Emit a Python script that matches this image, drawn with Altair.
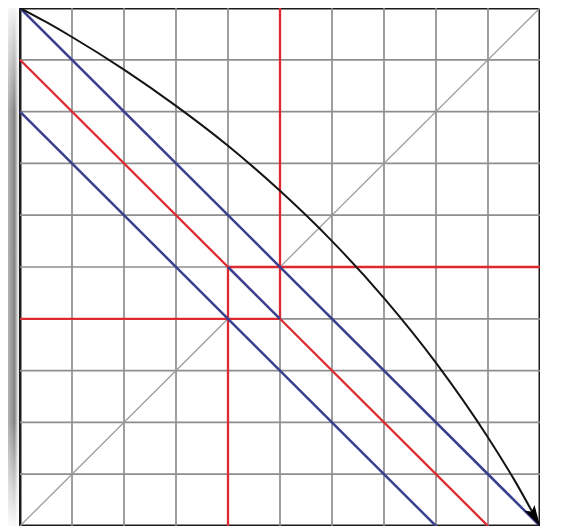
import altair as alt
import pandas as pd

# ---- data ----
GRID = [1, 2, 3, 4, 5, 6, 7, 8, 9]

# grey 45-degree line (hidden inside the small square)
GREY_X1 = [0, 5]
GREY_Y1 = [0, 5]
GREY_X2 = [4, 10]
GREY_Y2 = [4, 10]

# blue segments
BLUE_X1 = [0, 0, 4]
BLUE_Y1 = [10, 8, 5]
BLUE_X2 = [10, 8, 5]
BLUE_Y2 = [0, 0, 4]

# red segments
RED_X1 = [0, 5, 4, 0, 5, 4]
RED_Y1 = [9, 4, 5, 4, 4, 0]
RED_X2 = [4, 9, 10, 5, 5, 4]
RED_Y2 = [5, 0, 5, 4, 10, 5]

# black curved arrow
CURVE_X = [0, 0.5, 1, 2, 3, 4, 5, 6, 7, 8, 9, 9.5, 10]
CURVE_Y = [10, 9.73, 9.44, 8.81, 8.11, 7.34, 6.47, 5.5, 4.4, 3.15, 1.71, 0.9, 0]
ARROW_X = [10]
ARROW_Y = [0]

W, H = 520, 518

grid_df = pd.DataFrame(
    {"x1": GRID + [0] * len(GRID), "y1": [0] * len(GRID) + GRID,
     "x2": GRID + [10] * len(GRID), "y2": [10] * len(GRID) + GRID}
)
grey_df = pd.DataFrame({"x1": GREY_X1, "y1": GREY_Y1, "x2": GREY_X2, "y2": GREY_Y2})
blue_df = pd.DataFrame({"x1": BLUE_X1, "y1": BLUE_Y1, "x2": BLUE_X2, "y2": BLUE_Y2})
red_df = pd.DataFrame({"x1": RED_X1, "y1": RED_Y1, "x2": RED_X2, "y2": RED_Y2})
curve_df = pd.DataFrame({"x": CURVE_X, "y": CURVE_Y})
arrow_df = pd.DataFrame({"x": ARROW_X, "y": ARROW_Y})

xs = alt.Scale(domain=[0, 10], nice=False, zero=False)
ys = alt.Scale(domain=[0, 10], nice=False, zero=False)


def segs(df, color, width):
    return alt.Chart(df).mark_rule(color=color, strokeWidth=width).encode(
        x=alt.X("x1:Q", scale=xs, axis=None),
        y=alt.Y("y1:Q", scale=ys, axis=None),
        x2="x2:Q",
        y2="y2:Q",
    )


shade_df = pd.DataFrame({"k": [0]})
shade = alt.Chart(shade_df).mark_rect(
    color=alt.Gradient(
        gradient="linear",
        stops=[
            alt.GradientStop(color="#b4b4b4", offset=0),
            alt.GradientStop(color="#858585", offset=0.6),
            alt.GradientStop(color="#d6d6d6", offset=0.85),
            alt.GradientStop(color="#f6f6f6", offset=1),
        ],
        x1=0, x2=1, y1=0, y2=0,
    )
).encode(x=alt.value(-12), x2=alt.value(-1), y=alt.value(0), y2=alt.value(H))

shade_fade = alt.Chart(shade_df).mark_rect(
    color=alt.Gradient(
        gradient="linear",
        stops=[
            alt.GradientStop(color="rgba(255,255,255,0.9)", offset=0),
            alt.GradientStop(color="rgba(255,255,255,0)", offset=0.2),
            alt.GradientStop(color="rgba(255,255,255,0)", offset=0.8),
            alt.GradientStop(color="rgba(255,255,255,0.95)", offset=1),
        ],
        x1=0, x2=0, y1=0, y2=1,
    )
).encode(x=alt.value(-12), x2=alt.value(-1), y=alt.value(0), y2=alt.value(H))

grid = segs(grid_df, "#8e8e8e", 1.7)
grey = segs(grey_df, "#9c9c9c", 1.3)
red = segs(red_df, "#dd2a30", 2.3)
blue = segs(blue_df, "#3b3f8f", 2.5)

curve = alt.Chart(curve_df).mark_line(
    color="#141414", strokeWidth=2, interpolate="monotone"
).encode(
    x=alt.X("x:Q", scale=xs, axis=None),
    y=alt.Y("y:Q", scale=ys, axis=None),
)

arrow = alt.Chart(arrow_df).mark_point(
    shape="M 0 0 L 0.55 2 L 0 1.6 L -0.55 2 Z",
    filled=True,
    size=440,
    angle=150,
    color="#000000",
    opacity=1,
    strokeWidth=0,
).encode(
    x=alt.X("x:Q", scale=xs, axis=None),
    y=alt.Y("y:Q", scale=ys, axis=None),
)

chart = (
    alt.layer(shade, shade_fade, grid, grey, red, blue, curve, arrow)
    .properties(
        width=W,
        height=H,
        autosize=alt.AutoSizeParams(type="none"),
        padding={"left": 12, "top": 0, "right": 0, "bottom": 0},
        background="white",
    )
    .configure_view(stroke="#1c1c1c", strokeWidth=3)
)

chart.save("out.html", embed_options={"renderer": "svg", "actions": False})
